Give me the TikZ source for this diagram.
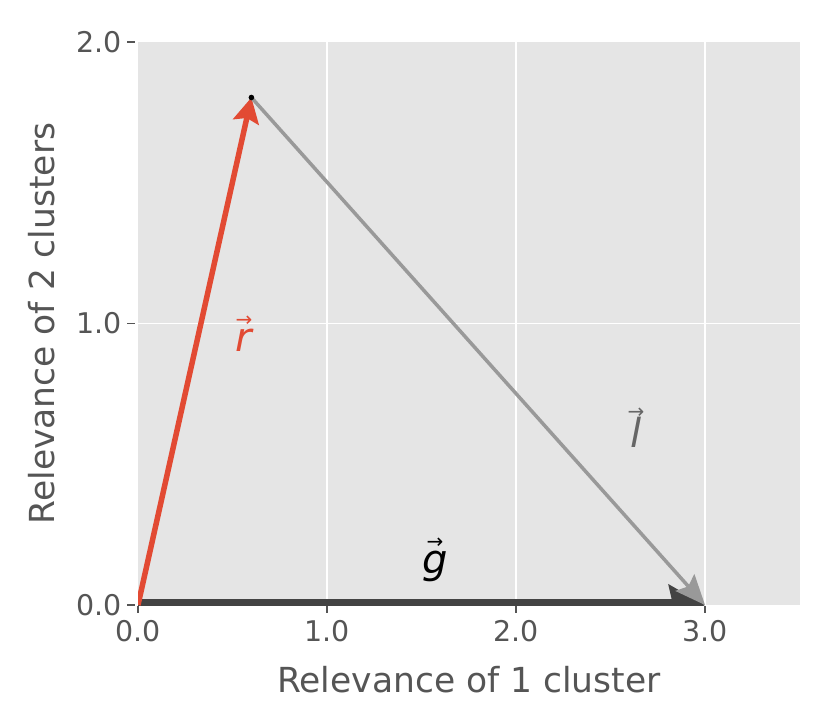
\documentclass[tikz,border=0pt]{standalone}
\usepackage{fontspec}
\setmainfont{DejaVu Sans}
\usetikzlibrary{arrows.meta}
\definecolor{ggbg}{HTML}{E5E5E5}
\definecolor{ggred}{HTML}{E24A33}
\definecolor{gggray}{HTML}{999999}
\definecolor{ggdark}{HTML}{434343}
\definecolor{ggtext}{HTML}{555555}
\definecolor{lgray}{HTML}{666666}
\newcommand\vlab[2]{\setbox0\hbox{\itshape #1}\rlap{\hbox to \wd0{\hss\raisebox{#2}{\fontsize{20}{20}\selectfont →}\hss}}\box0}
\tikzset{
  ticklab/.style={text=ggtext, font=\fontsize{28.5}{30}\selectfont, inner sep=0pt},
  axlab/.style={text=ggtext, font=\fontsize{34.5}{36}\selectfont, inner sep=0pt},
  vec/.style={font=\fontsize{40}{42}\selectfont, inner sep=0pt, anchor=base},
  grid/.style={white, line width=1.8pt},
  tick/.style={ggtext, line width=1.4pt},
}
\begin{document}
\begin{tikzpicture}[x=1pt,y=-1pt]
\useasboundingbox (0,0) rectangle (830,727);
% axes background
\fill[ggbg] (138,42) rectangle (800,605);
% grid
\foreach \x in {327,516,705} \draw[grid] (\x,42) -- (\x,605);
\draw[grid] (138,323.5) -- (800,323.5);
% ticks
\foreach \x in {138,327,516,705} \draw[tick] (\x,606) -- (\x,613);
\foreach \y in {42,323.5,605} \draw[tick] (127,\y) -- (135,\y);
% tick labels
\node[ticklab, anchor=north] (x0) at (138,620) {0.0};
\node[ticklab, anchor=north] (x1) at (327,620) {1.0};
\node[ticklab, anchor=north] (x2) at (516,620) {2.0};
\node[ticklab, anchor=north] (x3) at (705,620) {3.0};
\node[ticklab, anchor=east] (y0) at (122,605) {0.0};
\node[ticklab, anchor=east] (y1) at (122,323.5) {1.0};
\node[ticklab, anchor=east] (y2) at (122,42) {2.0};
% axis labels
\node[axlab] (xl) at (469,680) {Relevance of 1 cluster};
\node[axlab, rotate=90] (yl) at (42,323.5) {Relevance of 2 clusters};
% vectors
\coordinate (O) at (138,605);
\coordinate (P) at (251.4,97.5);
\coordinate (Q) at (705,605);
\begin{scope}
\clip (138,42) rectangle (800,605);
\draw[ggdark, line width=12pt, -{Stealth[length=36pt, width=40pt, inset=4pt]}] (O) -- (Q);
\draw[ggred, line width=5.5pt, -{Stealth[length=25pt, width=26pt, inset=4pt]}] (O) -- (P);
\draw[gggray, line width=3.5pt, -{Stealth[length=30pt, width=25pt, inset=5pt]}] (P) -- (Q);
\fill[black] (P) circle (2.8pt);
\end{scope}
% labels
\node[vec, text=ggred] (r) at (244,352) {\vlab{r}{25pt}};
\node[vec, text=black] (g) at (435,573) {\vlab{g}{25pt}};
\node[vec, text=lgray] (l) at (636,447) {\vlab{l}{29pt}};
\end{tikzpicture}
\end{document}
